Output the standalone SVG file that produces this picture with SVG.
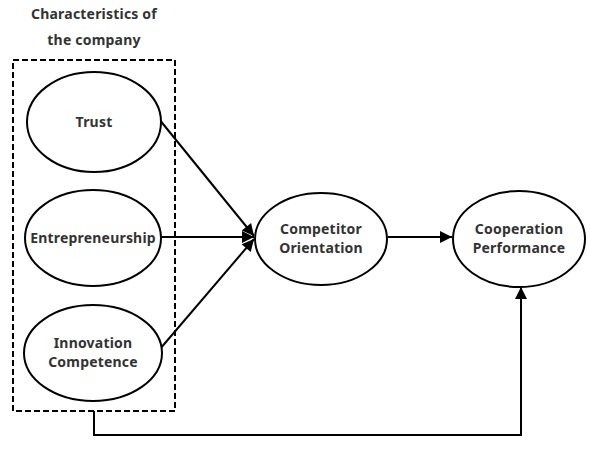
<svg xmlns="http://www.w3.org/2000/svg" width="590" height="451" viewBox="0 0 590 451">
<style>
.n{fill:#fff;stroke:#000;stroke-width:2}
.t{font-family:"Noto Sans","DejaVu Sans",sans-serif;font-weight:bold;font-size:14px;letter-spacing:0.2px;fill:#333;text-anchor:middle}
.c{fill:none;stroke:#000;stroke-width:2}
</style>
<defs>
<marker id="b" viewBox="0 0 10 10" refX="10" refY="5" markerWidth="14" markerHeight="12" orient="auto" markerUnits="userSpaceOnUse">
<path d="M0,0 L10,5 L0,10 z" fill="#000"/>
</marker>
</defs>
<g id="title">
<text class="t" x="94" y="19">Characteristics of</text>
<text class="t" x="94" y="45">the company</text>
</g>
<g id="group">
<rect x="13" y="60" width="162" height="351" fill="none" stroke="#000" stroke-width="2" stroke-dasharray="6,3"/>
</g>
<g id="connectors">
<line class="c" x1="159" y1="119" x2="254" y2="236" marker-end="url(#b)"/>
<line class="c" x1="160" y1="237" x2="254" y2="237" marker-end="url(#b)"/>
<line class="c" x1="160" y1="349" x2="254" y2="239" marker-end="url(#b)"/>
<line class="c" x1="388" y1="237" x2="452" y2="237" marker-end="url(#b)"/>
<polyline class="c" points="94,411 94,435 521,435 521,287" marker-end="url(#b)"/>
</g>
<g id="trust">
<ellipse class="n" cx="94" cy="122" rx="67" ry="50"/>
<text class="t" x="94" y="127">Trust</text>
</g>
<g id="entrepreneurship">
<ellipse class="n" cx="93" cy="238" rx="68" ry="48"/>
<text class="t" x="93" y="243">Entrepreneurship</text>
</g>
<g id="innovation">
<ellipse class="n" cx="93" cy="353" rx="69" ry="48"/>
<text class="t" x="93" y="348">Innovation</text>
<text class="t" x="93" y="367">Competence</text>
</g>
<g id="competitor">
<ellipse class="n" cx="321" cy="239" rx="66" ry="46"/>
<text class="t" x="321" y="234">Competitor</text>
<text class="t" x="321" y="253">Orientation</text>
</g>
<g id="cooperation">
<ellipse class="n" cx="519" cy="239" rx="66" ry="48"/>
<text class="t" x="519" y="234">Cooperation</text>
<text class="t" x="519" y="253">Performance</text>
</g>
</svg>
